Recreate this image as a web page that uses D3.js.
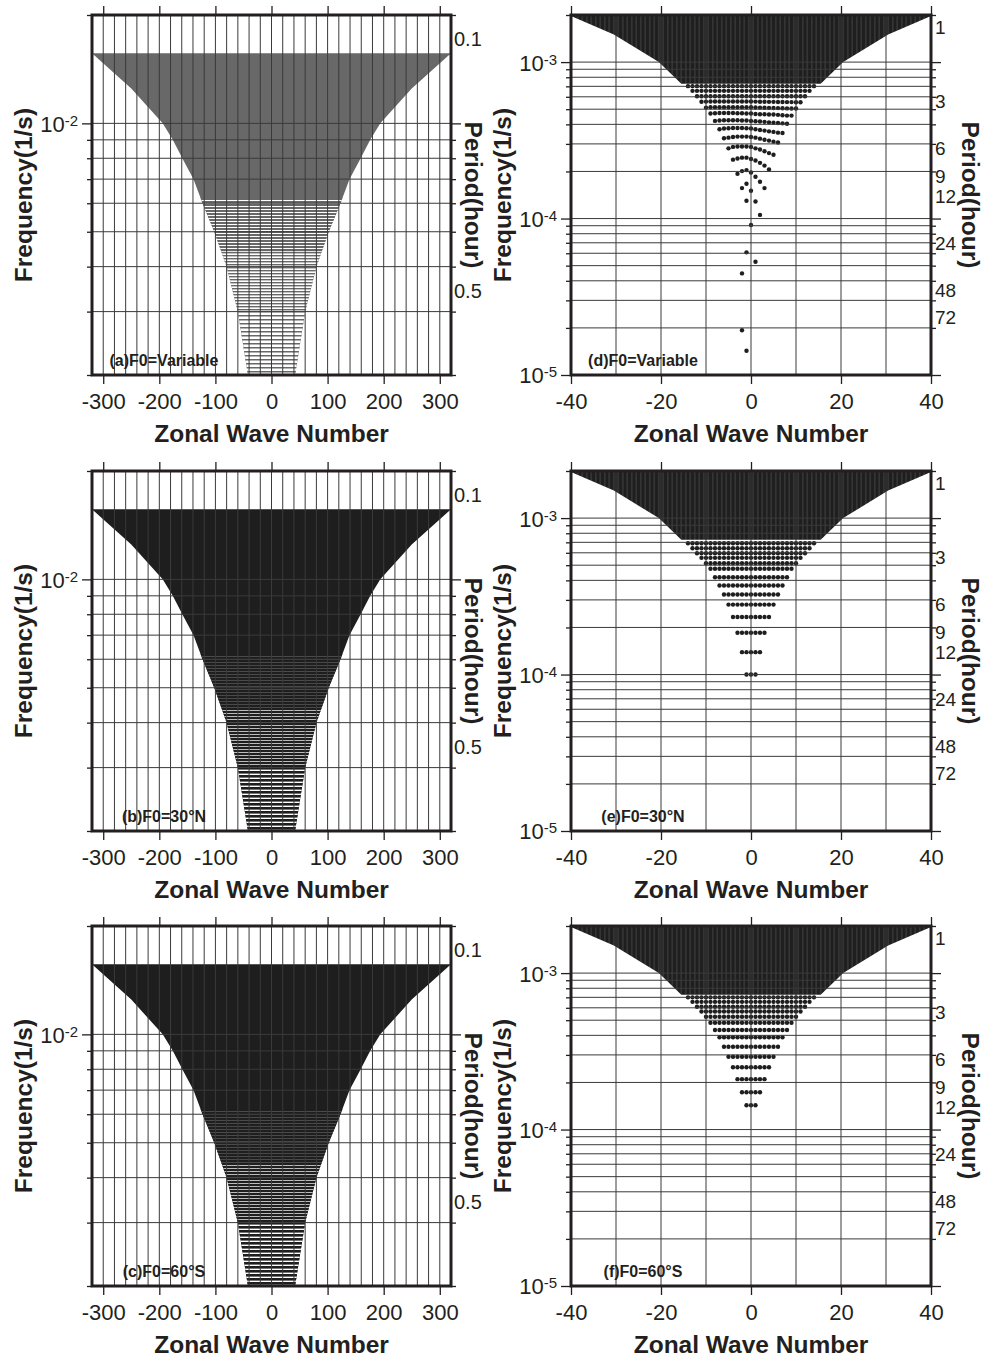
<!DOCTYPE html>
<html>
<head>
<meta charset="utf-8">
<script src="https://cdn.jsdelivr.net/npm/d3@7"></script>
<style>
html,body{margin:0;padding:0;background:#fff;}
svg{display:block;background:#fff;}
</style>
</head>
<body>
<svg id="chart" width="985" height="1357"></svg>
<script>
// ================= DATA =================
const panelLabels = ["(a)F0=Variable", "(b)F0=30°N", "(c)F0=60°S",
                     "(d)F0=Variable", "(e)F0=30°N", "(f)F0=60°S"];
const xTitle = "Zonal Wave Number";
const yTitle = "Frequency(1/s)";
const y2Title = "Period(hour)";

// axis ranges
const wideWaveDomain = [-320, 320];
const narrowWaveDomain = [-40, 40];
const wideFreqDomain = [2e-3, 2e-2];
const narrowFreqDomain = [1e-5, 2e-3];

// tick labels
const wideWaveTicks = [-300, -200, -100, 0, 100, 200, 300];
const narrowWaveTicks = [-40, -20, 0, 20, 40];
const widePeriodTicks = [0.1, 0.5];                 // hours
const narrowPeriodTicks = [1, 3, 6, 9, 12, 24, 48, 72]; // hours

// envelope of the resolved (wave number, frequency) region, panels a-c
const wideEdgeFreq = [2.0e-3, 3.0e-3, 4.0e-3, 5.0e-3, 6.0e-3, 7.0e-3, 8.0e-3, 9.0e-3, 1.0e-2, 1.25e-2, 1.565e-2];
const wideEdgeWave = [42, 60, 80, 102, 123, 139, 159, 176, 194, 250, 320];

// envelope of the dense (merged) part, panels d-f
const narrowEdgeFreq = [7.5e-4, 1.0e-3, 1.5e-3, 2.0e-3];
const narrowEdgeWave = [15, 20, 30, 40];

// distinct frequency rows (row i holds wave numbers -(i+1)..(i+1))
const rowsE = [1.00e-4, 1.39e-4, 1.85e-4, 2.33e-4, 2.80e-4, 3.25e-4, 3.71e-4, 4.19e-4, 4.74e-4, 5.15e-4, 5.57e-4, 5.96e-4, 6.42e-4, 6.90e-4];
const rowsF = [1.43e-4, 1.73e-4, 2.10e-4, 2.50e-4, 2.92e-4, 3.38e-4, 3.89e-4, 4.33e-4, 4.82e-4, 5.26e-4, 5.68e-4, 6.10e-4, 6.55e-4, 7.00e-4];

// panel d: curved rows (x1e-4), row i holds wave numbers -(i+3)..(i+3)
const arcsD = [
  [1.93, 2.01, 2.04, 1.97, 1.85, 1.72, 1.565],
  [2.38, 2.42, 2.45, 2.45, 2.40, 2.35, 2.27, 2.18, 2.06],
  [2.81, 2.87, 2.89, 2.89, 2.89, 2.87, 2.81, 2.76, 2.69, 2.62, 2.56],
  [3.26, 3.29, 3.32, 3.34, 3.34, 3.34, 3.32, 3.29, 3.24, 3.19, 3.15, 3.10, 3.06],
  [3.72, 3.76, 3.78, 3.79, 3.79, 3.79, 3.78, 3.76, 3.72, 3.68, 3.65, 3.61, 3.58, 3.54, 3.52],
  [4.21, 4.23, 4.25, 4.25, 4.25, 4.25, 4.23, 4.23, 4.21, 4.19, 4.17, 4.15, 4.12, 4.10, 4.08, 4.06, 4.04],
  [4.69, 4.71, 4.73, 4.73, 4.73, 4.73, 4.71, 4.71, 4.69, 4.69, 4.66, 4.64, 4.64, 4.62, 4.62, 4.60, 4.57, 4.55, 4.55],
  [5.12, 5.14, 5.15, 5.15, 5.15, 5.15, 5.15, 5.15, 5.15, 5.15, 5.14, 5.13, 5.12, 5.11, 5.10, 5.09, 5.08, 5.07, 5.06, 5.05, 5.05],
  [5.58, 5.59, 5.60, 5.60, 5.60, 5.60, 5.60, 5.60, 5.60, 5.60, 5.60, 5.60, 5.59, 5.58, 5.58, 5.57, 5.57, 5.56, 5.56, 5.55, 5.55, 5.54, 5.54]
];
// panel d: nearly flat rows above the arcs (row i holds wave numbers -(i+12)..(i+12))
const flatRowsD = [6.05e-4, 6.55e-4, 7.02e-4];
// panel d: isolated low-frequency points
const scatterDWave = [-2, -1, 0, -1, 1, 2, 0, -1, 1, -2, -2, -1];
const scatterDFreq = [1.565e-4, 1.67e-4, 1.505e-4, 1.30e-4, 1.285e-4, 1.055e-4, 9.1e-5, 6.08e-5, 5.30e-5, 4.46e-5, 1.93e-5, 1.43e-5];

// ================= STYLE / LAYOUT =================
const FONT = '"Liberation Sans", Arial, Helvetica, sans-serif';
const INK = '#231f20';
const GRID = '#3a3a3a';
const DARK = '#1e1e1e';
const GREY = '#686868';
const DOT_R = 2.2;
const textureBands = [
  {lo: 2.0e-3, hi: 3.0e-3, period: 4, lineFixed: 2.6, lineVar: 1.5},
  {lo: 3.0e-3, hi: 4.4e-3, period: 3, lineFixed: 2.3, lineVar: 1.4},
  {lo: 4.4e-3, hi: 6.2e-3, period: 3, lineFixed: 2.8, lineVar: 2.0}
];
const layout = [
  {x0: 92,  y0: 15,  wide: true,  kind: 'var'},
  {x0: 92,  y0: 471, wide: true,  kind: 'fixed'},
  {x0: 92,  y0: 926, wide: true,  kind: 'fixed'},
  {x0: 571, y0: 15,  wide: false, kind: 'd'},
  {x0: 571, y0: 471, wide: false, kind: 'e'},
  {x0: 571, y0: 926, wide: false, kind: 'f'}
];

const svg = d3.select('#chart');
const defs = svg.append('defs');
const isMajor = v => Math.abs(Math.log10(v) - Math.round(Math.log10(v))) < 1e-6;
const toPeriod = f => 2 * Math.PI / (f * 3600);

function stripePattern(id, period, lineW, color, H) {
  const p = defs.append('pattern').attr('id', id)
    .attr('patternUnits', 'userSpaceOnUse')
    .attr('x', 0).attr('y', H).attr('width', 8).attr('height', period);
  p.append('rect').attr('width', 8).attr('height', period).attr('fill', '#fff');
  p.append('rect').attr('width', 8).attr('height', lineW).attr('fill', color);
}

layout.forEach((p, idx) => {
  const W = p.wide ? 359 : 360, H = 360;
  const x = d3.scaleLinear().domain(p.wide ? wideWaveDomain : narrowWaveDomain).range([0, W]);
  const y = d3.scaleLog().domain(p.wide ? wideFreqDomain : narrowFreqDomain).range([H, 0]);
  const g = svg.append('g').attr('transform', `translate(${p.x0},${p.y0})`);
  const clipId = 'clip' + idx;
  defs.append('clipPath').attr('id', clipId).append('rect').attr('width', W).attr('height', H);
  const plot = g.append('g').attr('clip-path', `url(#${clipId})`);

  if (p.wide) {
    const edge = wideEdgeFreq.map((f, i) => ({f, w: wideEdgeWave[i]}));
    const area = d3.area().y(d => y(d.f)).x0(d => x(-d.w)).x1(d => x(d.w));
    const col = p.kind === 'var' ? GREY : DARK;
    plot.append('path').datum(edge).attr('d', area).attr('fill', col);
    textureBands.forEach((b, bi) => {
      const pid = `stripe${idx}_${bi}`;
      stripePattern(pid, b.period, p.kind === 'var' ? b.lineVar : b.lineFixed, col, H);
      const cid = `band${idx}_${bi}`;
      defs.append('clipPath').attr('id', cid).append('rect')
        .attr('x', 0).attr('width', W).attr('y', y(b.hi)).attr('height', y(b.lo) - y(b.hi));
      plot.append('g').attr('clip-path', `url(#${cid})`)
        .append('path').datum(edge).attr('d', area).attr('fill', `url(#${pid})`);
    });
  } else {
    // dense merged region drawn as columns at each integer wave number
    const colW = x(1) - x(0);
    const pid = 'cols' + idx;
    const pat = defs.append('pattern').attr('id', pid).attr('patternUnits', 'userSpaceOnUse')
      .attr('x', x(-0.5)).attr('y', 0).attr('width', colW).attr('height', 10);
    pat.append('rect').attr('width', colW).attr('height', 10).attr('fill', '#a0a0a0');
    pat.append('rect').attr('x', (colW - 4.2) / 2).attr('width', 4.2).attr('height', 10).attr('fill', DARK);
    const edge = narrowEdgeFreq.map((f, i) => ({f, w: narrowEdgeWave[i], first: i === 0}));
    const area = d3.area()
      .y(d => y(d.f) + (d.first ? DOT_R : 0))
      .x0(d => x(-d.w) - DOT_R).x1(d => x(d.w) + DOT_R);
    plot.append('path').datum(edge).attr('d', area).attr('fill', `url(#${pid})`);

    let pts = [];
    if (p.kind === 'd') {
      arcsD.forEach((arr, i) => {
        const K = i + 3;
        arr.forEach((v, j) => pts.push({k: j - K, f: v * 1e-4}));
      });
      flatRowsD.forEach((f, i) => {
        d3.range(-(i + 12), i + 13).forEach(k => pts.push({k, f}));
      });
      scatterDWave.forEach((k, i) => pts.push({k, f: scatterDFreq[i]}));
    } else {
      const rows = p.kind === 'e' ? rowsE : rowsF;
      rows.forEach((f, i) => {
        d3.range(-(i + 1), i + 2).forEach(k => pts.push({k, f}));
      });
    }
    plot.selectAll('circle.pt').data(pts).join('circle').attr('class', 'pt')
      .attr('cx', d => x(d.k)).attr('cy', d => y(d.f)).attr('r', DOT_R).attr('fill', DARK);
  }

  // grid
  const vGrid = p.wide ? d3.range(-300, 301, 20) : d3.range(-30, 31, 10);
  plot.selectAll('line.vg').data(vGrid).join('line').attr('class', 'vg')
    .attr('x1', d => x(d)).attr('x2', d => x(d)).attr('y1', 0).attr('y2', H)
    .attr('stroke', GRID).attr('stroke-width', 1);
  const dom = y.domain();
  const yTicks = y.ticks();
  const hGrid = yTicks.filter(v => v > dom[0] * 1.0001 && v < dom[1] * 0.9999);
  plot.selectAll('line.hg').data(hGrid).join('line').attr('class', 'hg')
    .attr('x1', 0).attr('x2', W).attr('y1', d => y(d)).attr('y2', d => y(d))
    .attr('stroke', GRID).attr('stroke-width', 1);

  const waveTicks = p.wide ? wideWaveTicks : narrowWaveTicks;
  function styleAxis(sel) {
    sel.attr('color', INK).attr('font-family', FONT);
    sel.select('.domain').remove();
    sel.selectAll('.tick line').attr('stroke-width', 1.3);
  }
  // top
  g.append('g').call(d3.axisTop(x).tickValues(waveTicks).tickSize(9).tickFormat('')).call(styleAxis);
  // bottom
  const axB = g.append('g').attr('transform', `translate(0,${H})`)
    .call(d3.axisBottom(x).tickValues(waveTicks).tickSize(9).tickPadding(9.5).tickFormat(d => String(d)))
    .call(styleAxis);
  axB.attr('font-size', 22);
  // left
  const axL = g.append('g')
    .call(d3.axisLeft(y).tickValues(yTicks).tickSize(10).tickPadding(4).tickFormat(d => isMajor(d) ? '10' : ''))
    .call(styleAxis);
  axL.attr('font-size', 22);
  axL.selectAll('.tick line').attr('x2', d => isMajor(d) ? -10 : -5);
  axL.selectAll('.tick text').attr('dy', '0.36em').each(function (d) {
    if (isMajor(d)) {
      d3.select(this).append('tspan').attr('dy', -6).attr('font-size', 15)
        .text(String(Math.round(Math.log10(d))));
    }
  });
  // right (frequency ticks)
  const axR = g.append('g').attr('transform', `translate(${W},0)`)
    .call(d3.axisRight(y).tickValues(yTicks).tickSize(10).tickFormat(''))
    .call(styleAxis);
  axR.selectAll('.tick line').attr('x2', d => isMajor(d) ? 10 : 5);
  // right (period labels)
  const pScale = d3.scaleLog().domain(dom.map(toPeriod)).range([H, 0]);
  const axP = g.append('g').attr('transform', `translate(${W},0)`)
    .call(d3.axisRight(pScale).tickValues(p.wide ? widePeriodTicks : narrowPeriodTicks)
      .tickSize(0).tickPadding(p.wide ? 3 : 4).tickFormat(d => String(d)))
    .call(styleAxis);
  axP.attr('font-size', p.wide ? 20 : 19);
  axP.selectAll('.tick text').attr('dy', '0.47em');

  // frame
  g.append('rect').attr('width', W).attr('height', H).attr('fill', 'none')
    .attr('stroke', INK).attr('stroke-width', 3);

  // panel label
  g.append('text').attr('x', 72).attr('y', H - 9).attr('text-anchor', 'middle')
    .attr('font-family', FONT).attr('font-weight', 'bold').attr('font-size', 16)
    .attr('fill', INK).text(panelLabels[idx]);

  // titles
  svg.append('text').attr('transform', `translate(${p.x0 + W / 2},${p.y0 + H + 67})`)
    .attr('text-anchor', 'middle').attr('font-family', FONT).attr('font-weight', 'bold')
    .attr('font-size', 24.5).attr('fill', INK).text(xTitle);
  svg.append('text').attr('transform', `translate(${p.x0 - 60},${p.y0 + H / 2}) rotate(-90)`)
    .attr('text-anchor', 'middle').attr('font-family', FONT).attr('font-weight', 'bold')
    .attr('font-size', 24.5).attr('fill', INK).text(yTitle);
  svg.append('text').attr('transform', `translate(${p.x0 + W + (p.wide ? 14 : 31)},${p.y0 + H / 2}) rotate(90)`)
    .attr('text-anchor', 'middle').attr('font-family', FONT).attr('font-weight', 'bold')
    .attr('font-size', 24.5).attr('fill', INK).text(y2Title);
});
</script>
</body>
</html>
